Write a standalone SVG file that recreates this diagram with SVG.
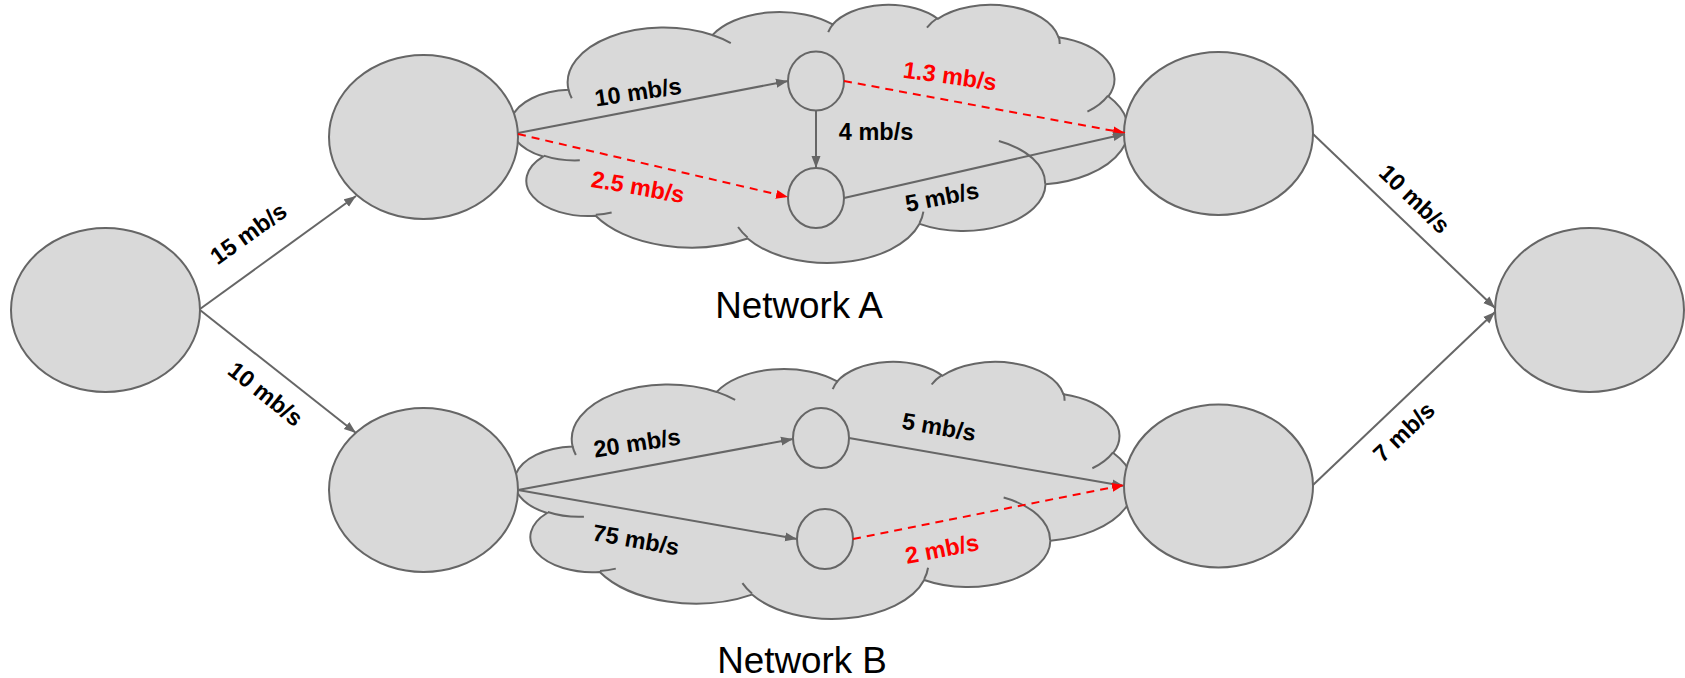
<svg xmlns="http://www.w3.org/2000/svg" xmlns:xlink="http://www.w3.org/1999/xlink" width="1685" height="678" viewBox="0 0 1685 678">
  <style>
    .node { fill: #d9d9d9; stroke: #666666; stroke-width: 2; }
    .edge { fill: none; stroke: #666666; stroke-width: 2; }
    .edge.gray { marker-end: url(#arrow-gray); }
    .edge.red { stroke: #ff0000; stroke-dasharray: 8 6; marker-end: url(#arrow-red); }
    .lbl { font-family: "Liberation Sans", Arial, sans-serif; font-size: 23.5px; font-weight: bold; fill: #000000; text-anchor: middle; }
    .lbl.red { fill: #ff0000; }
    .title { font-family: "Liberation Sans", Arial, sans-serif; font-size: 36.8px; fill: #000000; text-anchor: middle; }
  </style>
  <defs>
    <marker id="arrow-gray" viewBox="0 0 12 10" refX="12" refY="5" markerWidth="12" markerHeight="10" markerUnits="userSpaceOnUse" orient="auto">
      <path d="M0,0.5 L12,5 L0,9.5 z" fill="#666666"/>
    </marker>
    <marker id="arrow-red" viewBox="0 0 12 10" refX="12" refY="5" markerWidth="12" markerHeight="10" markerUnits="userSpaceOnUse" orient="auto">
      <path d="M0,0.5 L12,5 L0,9.5 z" fill="#ff0000"/>
    </marker>
    <!-- cloud outline in a 43200 x 43200 box; scaled per network -->
    <g id="cloud">
      <path fill="#d9d9d9" stroke="#666666" stroke-width="2" vector-effect="non-scaling-stroke"
        d="M3900 14370 A6753 9190 0 0 1 14005 5202 A5333 7267 0 0 1 22457 3430 A4365 5945 0 0 1 29835 2479 A4857 6595 0 0 1 38321 5574 A5333 7273 0 0 1 41821 15458 A6775 9220 0 0 1 37404 30199 A5785 7867 0 0 1 28556 36809 A6752 9215 0 0 1 16480 39262 A7720 10543 0 0 1 5803 35466 A4360 5918 0 0 1 2109 25548 A4345 5945 0 0 1 3900 14370 Z"/>
      <path fill="none" stroke="#666666" stroke-width="2" vector-effect="non-scaling-stroke"
        d="M4693 26177 A4345 5945 0 0 1 2159 25380 M6928 34899 A4360 5918 0 0 1 5819 35281 M16478 39090 A6752 9215 0 0 1 15809 37347 M28827 34751 A6752 9215 0 0 1 28560 36660 M34129 22954 A5785 7867 0 0 1 37381 30090 M41798 15354 A5333 7273 0 0 1 40350 18030 M38324 5426 A4857 6595 0 0 1 38400 6690 M29078 3952 A4857 6595 0 0 1 29819 2342 M22141 4720 A4365 5945 0 0 1 22500 3331 M14000 5192 A6753 9190 0 0 1 15299 6540 M4127 15789 A6753 9190 0 0 1 3901 14371"/>
    </g>
  </defs>

  <!-- network clouds -->
  <g id="network-a">
    <use href="#cloud" xlink:href="#cloud" transform="translate(513 4) scale(0.0142361 0.0059722)"/>
    <text class="title" x="799" y="318">Network A</text>
  </g>
  <g id="network-b">
    <use href="#cloud" xlink:href="#cloud" transform="translate(517 361) scale(0.0142593 0.0059491)"/>
    <text class="title" x="802" y="673">Network B</text>
  </g>

  <!-- nodes -->
  <g id="source"><ellipse class="node" cx="105.5" cy="310" rx="94.5" ry="82"/></g>
  <g id="a-in"><ellipse class="node" cx="423.5" cy="137" rx="94.5" ry="82"/></g>
  <g id="b-in"><ellipse class="node" cx="423.5" cy="490" rx="94.5" ry="82"/></g>
  <g id="a-out"><ellipse class="node" cx="1218.5" cy="133.5" rx="94.5" ry="81.5"/></g>
  <g id="b-out"><ellipse class="node" cx="1218.5" cy="486" rx="94.5" ry="81.5"/></g>
  <g id="sink"><ellipse class="node" cx="1589.5" cy="310" rx="94.5" ry="82"/></g>
  <g id="a-top"><ellipse class="node" cx="816" cy="81" rx="28" ry="29.5"/></g>
  <g id="a-bottom"><ellipse class="node" cx="816" cy="198" rx="28" ry="30"/></g>
  <g id="b-top"><ellipse class="node" cx="821" cy="438" rx="28" ry="30"/></g>
  <g id="b-bottom"><ellipse class="node" cx="825" cy="539" rx="28" ry="30"/></g>

  <!-- connectors -->
  <g id="connectors">
    <line class="edge gray" x1="200" y1="309" x2="356" y2="196"/>
    <line class="edge gray" x1="200" y1="310" x2="356" y2="433"/>
    <line class="edge gray" x1="518" y1="133" x2="788" y2="81"/>
    <line class="edge red" x1="518" y1="134" x2="788" y2="197"/>
    <line class="edge gray" x1="816" y1="111" x2="816" y2="168"/>
    <line class="edge red" x1="844" y1="81" x2="1125" y2="133"/>
    <line class="edge gray" x1="844" y1="198" x2="1125" y2="134"/>
    <line class="edge gray" x1="1313" y1="134" x2="1495" y2="308"/>
    <line class="edge gray" x1="518" y1="490" x2="793" y2="439"/>
    <line class="edge gray" x1="518" y1="490" x2="797" y2="539"/>
    <line class="edge gray" x1="849" y1="438" x2="1124" y2="486"/>
    <line class="edge red" x1="853" y1="539" x2="1124" y2="485"/>
    <line class="edge gray" x1="1313" y1="485" x2="1495" y2="312"/>

    <!-- rate labels -->
    <text class="lbl" transform="translate(248.5 233.5) rotate(-35.5)" y="8">15 mb/s</text>
    <text class="lbl" transform="translate(265.5 394) rotate(38.7)" y="8">10 mb/s</text>
    <text class="lbl" transform="translate(638 92) rotate(-8.5)" y="8">10 mb/s</text>
    <text class="lbl red" transform="translate(638 187) rotate(10)" y="8">2.5 mb/s</text>
    <text class="lbl" transform="translate(876 132)" y="8">4 mb/s</text>
    <text class="lbl red" transform="translate(950 76) rotate(8)" y="8">1.3 mb/s</text>
    <text class="lbl" transform="translate(942 197) rotate(-11)" y="8">5 mb/s</text>
    <text class="lbl" transform="translate(1414.5 199) rotate(43.9)" y="8">10 mb/s</text>
    <text class="lbl" transform="translate(1404 432) rotate(-43.7)" y="8">7 mb/s</text>
    <text class="lbl" transform="translate(637 443) rotate(-8.6)" y="8">20 mb/s</text>
    <text class="lbl" transform="translate(636 540) rotate(10)" y="8">75 mb/s</text>
    <text class="lbl" transform="translate(939 427) rotate(9.8)" y="8">5 mb/s</text>
    <text class="lbl red" transform="translate(942 549) rotate(-11)" y="8">2 mb/s</text>
  </g>
</svg>
